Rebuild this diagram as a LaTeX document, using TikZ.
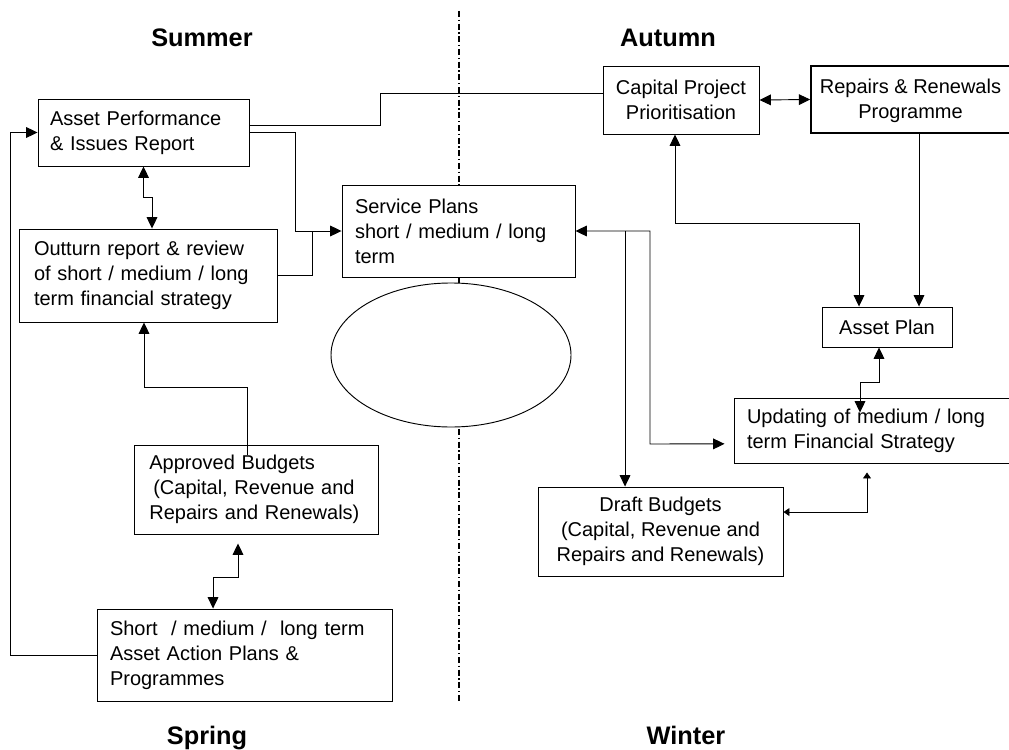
\documentclass[tikz,border=0pt]{standalone}
\usepackage{fontspec}
\setmainfont{Liberation Sans}
\usetikzlibrary{shapes.geometric, arrows.meta}
\newcommand{\boxfont}{\fontsize{15pt}{18.75pt}\selectfont}
\newcommand{\seasonfont}{\fontsize{19pt}{23pt}\selectfont\bfseries}
\tikzset{
  box/.style={rectangle, draw, fill=white, font=\boxfont,
    align=left, inner ysep=0pt, line width=0.7pt},
  cbox/.style={box, align=center},
  hub/.style={ellipse, draw, fill=white, minimum width=180pt,
    minimum height=108pt, inner sep=0pt, line width=0.7pt},
  season/.style={font=\seasonfont, anchor=base},
  line/.style={line width=0.7pt},
  arrow/.style={-{Triangle[length=8.5pt,width=8pt]}, line width=0.7pt},
  dblarrow/.style={{Triangle[length=8.5pt,width=8pt]}-{Triangle[length=8.5pt,width=8pt]}, line width=0.7pt},
  smalldbl/.style={{Triangle[length=4.5pt,width=6pt]}-{Triangle[length=4.5pt,width=6pt]}, line width=0.7pt},
  divider/.style={line width=0.8pt, dash pattern=on 4.5pt off 2pt on 1pt off 2pt}
}
\begin{document}
\begin{tikzpicture}[x=0.75pt, y=-0.75pt]
  \useasboundingbox (0,0) rectangle (1009,749);
  % Season divider
  \coordinate (divtop) at (459,11);
  \coordinate (divbot) at (459,702);
  \draw[divider] (divtop) -- (divbot);

  % Season labels
  \node[season] (summer) at (202,47) {Summer};
  \node[season] (autumn) at (668,47) {Autumn};
  \node[season] (spring) at (207,744) {Spring};
  \node[season] (winter) at (686,744) {Winter};

  % Summer / spring side
  \node[box, minimum width=158.25pt, minimum height=50.25pt, text width=140.25pt, inner xsep=9pt]
    (apr) at (143.5,132.5) {Asset Performance\\ \& Issues Report};
  \node[box, minimum width=193.5pt, minimum height=69.75pt, text width=171pt, inner xsep=11.25pt]
    (outturn) at (148,275.5) {Outturn report \& review\\ of short / medium / long\\ term financial strategy};
  \node[box, minimum width=174.75pt, minimum height=69pt, text width=155.25pt, inner xsep=9.75pt]
    (svc) at (458.5,231) {Service Plans\\ short / medium / long\\ term};
  \node[hub] (cycle) at (451,355) {};
  \node[box, minimum width=183pt, minimum height=66.75pt, text width=160pt, inner xsep=11.5pt]
    (appr) at (256,489.5) {Approved Budgets\\ \hspace*{3pt}(Capital, Revenue and\\ Repairs and Renewals)};
  \node[box, minimum width=221.25pt, minimum height=69pt, text width=201.75pt, inner xsep=9.75pt]
    (sml) at (244.5,655) {Short~ / medium /~ long term\\ Asset Action Plans \&\\ Programmes};

  % Autumn / winter side
  \node[cbox, minimum width=117pt, minimum height=51pt] (cpp) at (681,100) {Capital Project\\ Prioritisation};
  \node[cbox, minimum width=149.25pt, minimum height=50.25pt, line width=1.2pt, text depth=1pt]
    (rrp) at (910.5,99.5) {Repairs \& Renewals\\ Programme};
  \node[cbox, minimum width=97.5pt, minimum height=30pt] (aplan) at (887,327) {Asset Plan};
  \node[box, minimum width=207pt, minimum height=48.75pt, text width=187.5pt, inner xsep=9.75pt]
    (upd) at (872,430.5) {Updating of medium / long\\ term Financial Strategy};
  \node[cbox, minimum width=183.75pt, minimum height=66.75pt]
    (draft) at (660.5,531.5) {Draft Budgets\\ (Capital, Revenue and\\ Repairs and Renewals)};

  % Links on the summer side
  \draw[line] ([yshift=5.6pt]apr.east) -| (380,93) -- ([yshift=5.25pt]cpp.west);
  \draw[arrow] (apr.east) -- (295,132.5) |- (svc.west);
  \draw[line] (outturn.east) -| (312,231);
  \draw[dblarrow] (apr.south) -- (143.5,197) -| ([xshift=3pt]outturn.north);
  \draw[arrow] ([xshift=-6.75pt,yshift=-7.5pt]appr.north) |- (144,387) -- ([xshift=-3pt]outturn.south);
  \draw[dblarrow, shorten >=6.75pt] ([xshift=-23.6pt]sml.north) |- (238,577) -- ([xshift=-13.5pt]appr.south);
  \draw[arrow] (sml.west) -- (10,655) |- (apr.west);

  % Links on the autumn side
  \draw[dblarrow] (cpp.east) -- (rrp.west);
  \draw[dblarrow] ([xshift=-4.5pt]cpp.south) |- (859,223) -- ([xshift=-21pt]aplan.north);
  \draw[arrow] ([xshift=24pt]aplan.north |- rrp.south) -- ([xshift=24pt]aplan.north);
  \draw[dblarrow] ([xshift=-6pt]aplan.south) |- (860,382) -- ([xshift=-9pt,yshift=-11.25pt]upd.north);
  \draw[dblarrow, shorten >=6.75pt] (svc.east) -| (650,444) -- ([yshift=-10pt]upd.west);
  \draw[arrow] ([xshift=-26.6pt]draft.north |- svc.east) -- ([xshift=-26.6pt]draft.north);
  \draw[smalldbl, shorten >=6.75pt] ([yshift=14.6pt]draft.east) -| ([xshift=-3.75pt]upd.south);
\end{tikzpicture}
\end{document}
